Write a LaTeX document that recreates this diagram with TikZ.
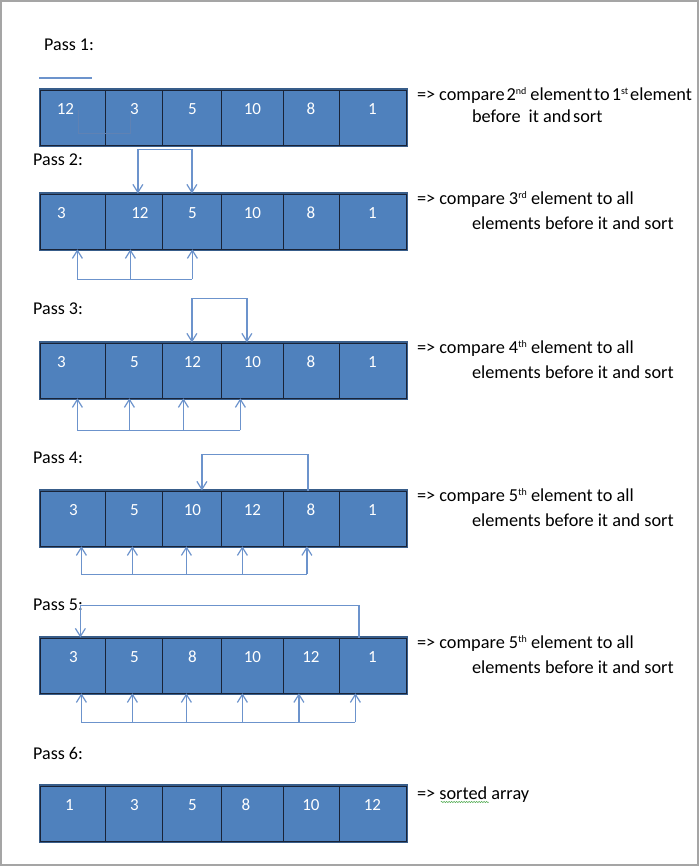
\documentclass[tikz,border=0pt]{standalone}
\usepackage{fontspec}
\setmainfont{Carlito}
\usetikzlibrary{positioning,matrix,arrows.meta,decorations.pathmorphing}

\definecolor{boxblue}{RGB}{79,129,189}
\definecolor{boxedge}{RGB}{56,93,138}
\definecolor{divider}{RGB}{25,35,55}
\definecolor{connblue}{RGB}{108,147,204}
\definecolor{ghostline}{RGB}{95,130,180}
\definecolor{framegray}{RGB}{165,165,165}
\definecolor{spellgreen}{RGB}{80,170,80}

\newcommand\ordsup[1]{\raisebox{6pt}{\fontsize{10}{10}\selectfont#1}}

\begin{document}
\begin{tikzpicture}[x=1pt, y=-1pt,
        >={Straight Barb[length=8pt,width=10pt]},
        arr/.style={matrix of nodes, ampersand replacement=\&,
          column sep=-0.8pt, draw=boxedge, line width=3pt, inner sep=0pt,
          anchor=north west,
          nodes={draw=divider, line width=0.8pt, fill=boxblue, minimum height=55pt,
            text=white, font=\fontsize{17}{20}\selectfont,
            text height=9pt, text depth=15pt, inner sep=0pt},
          column 1/.style={nodes={minimum width=65pt}},
          column 2/.style={nodes={minimum width=57pt}},
          column 3/.style={nodes={minimum width=59pt}},
          column 4/.style={nodes={minimum width=61pt}},
          column 5/.style={nodes={minimum width=56pt}},
          column 6/.style={nodes={minimum width=67pt}}},
        nudge/.style={execute at begin node={\hspace*{#1}}},
        pass/.style={anchor=base west, inner sep=0pt, font=\fontsize{18}{20}\selectfont},
        desc/.style={anchor=north west, inner sep=0pt, align=left,
          font=\fontsize{18.3}{25}\selectfont},
        conn/.style={draw=connblue, line width=1.2pt},
        ghost/.style={draw=ghostline, line width=0.5pt},
        spell/.style={draw=spellgreen, line width=0.5pt, decorate,
          decoration={snake, amplitude=0.7pt, segment length=2.5pt}}
        ]
        \useasboundingbox (0,0) rectangle (700,867);
        \fill[white] (0,0) rectangle (700,867);
        \draw[framegray, line width=1.5pt] (1,1) rectangle (698,865);

        % pass 1
        \node[pass] (p1) at (44,51) {Pass 1:};
        \matrix[arr] (r1) at (39,88) {
          |[nudge=-16pt]| 12 \& 3 \& 5 \& 10 \& 8 \& 1 \\
        };
        \draw[conn] ([yshift=10pt]r1.north west) -- ++(53,0);
        \draw[ghost] ([xshift=5pt,yshift=7pt]r1-1-1.center)
          |- ([xshift=-4pt,yshift=-16pt]r1-1-2.center) -- ++(0,-21);
        \node[desc] (d1) at ([xshift=9pt,yshift=4pt]r1.north east)
          {\rule{0pt}{16pt}{\spaceskip=2pt\relax =>\hspace{4pt}compare 2\ordsup{nd}\hspace{4pt}element to 1\ordsup{st} element}\\[-3pt]
           \hspace*{55pt}before\hspace{8pt}it and\hspace{2pt}sort};

        % pass 2
        \node[pass] (p2) at (33,165) {Pass 2:};
        \matrix[arr] (r2) at (39,192) {
          |[nudge=-24pt]| 3 \& |[nudge=11pt]| 12 \& 5 \& 10 \& 8 \& 1 \\
        };
        \draw[conn,<->] ([xshift=3.5pt]r2-1-2.north) -- ++(0,-44) -| ([xshift=-0.5pt]r2-1-3.north);
        \foreach \i/\d in {1/4,2/-4,3/0}
          \draw[conn,->] ([xshift=\d pt,yshift=-30pt]r2-1-\i.south) -- ([xshift=\d pt]r2-1-\i.south);
        \draw[conn] ([xshift=4pt,yshift=-30pt]r2-1-1.south) -- ([yshift=-30pt]r2-1-3.south);
        \node[desc] (d2) at ([xshift=9pt,yshift=4pt]r2.north east)
          {\rule{0pt}{16pt}=> compare 3\ordsup{rd} element to all\\
           \hspace*{55pt}elements before it and sort};

        % pass 3
        \node[pass] (p3) at (33,314) {Pass 3:};
        \matrix[arr] (r3) at (39,341) {
          |[nudge=-24pt]| 3 \& 5 \& 12 \& 10 \& 8 \& 1 \\
        };
        \draw[conn,<->] ([xshift=-0.5pt]r3-1-3.north) -- ++(0,-44) -| ([xshift=-5.5pt]r3-1-4.north);
        \foreach \i/\d in {1/4,2/-5,3/-9,4/-12}
          \draw[conn,->] ([xshift=\d pt,yshift=-32pt]r3-1-\i.south) -- ([xshift=\d pt]r3-1-\i.south);
        \draw[conn] ([xshift=4pt,yshift=-32pt]r3-1-1.south) -- ([xshift=-12pt,yshift=-32pt]r3-1-4.south);
        \node[desc] (d3) at ([xshift=9pt,yshift=4pt]r3.north east)
          {\rule{0pt}{16pt}=> compare 4\ordsup{th} element to all\\
           \hspace*{55pt}elements before it and sort};

        % pass 4
        \node[pass] (p4) at (33,463) {Pass 4:};
        \matrix[arr] (r4) at (39,489) {
          3 \& 5 \& 10 \& 12 \& 8 \& 1 \\
        };
        \draw[conn,<-] ([xshift=9.5pt]r4-1-3.north) -- ++(0,-36) -| ([xshift=-3pt]r4-1-5.north);
        \foreach \i/\d in {1/8,2/-2,3/-6,4/-10,5/-4}
          \draw[conn,->] ([xshift=\d pt,yshift=-28pt]r4-1-\i.south) -- ([xshift=\d pt]r4-1-\i.south);
        \draw[conn] ([xshift=8pt,yshift=-28pt]r4-1-1.south) -- ([xshift=-4pt,yshift=-28pt]r4-1-5.south);
        \node[desc] (d4) at ([xshift=9pt,yshift=4pt]r4.north east)
          {\rule{0pt}{16pt}=> compare 5\ordsup{th} element to all\\
           \hspace*{55pt}elements before it and sort};

        % pass 5
        \node[pass] (p5) at (33,610) {Pass 5:};
        \matrix[arr] (r5) at (39,636) {
          3 \& 5 \& 8 \& 10 \& 12 \& 1 \\
        };
        \draw[conn,<-] ([xshift=7pt]r5-1-1.north) -- ++(0,-32) -| ([xshift=-13.5pt]r5-1-6.north);
        \foreach \i/\d in {1/8,2/-2,3/-6,4/-10,5/-12,6/-17}
          \draw[conn,->] ([xshift=\d pt,yshift=-29pt]r5-1-\i.south) -- ([xshift=\d pt]r5-1-\i.south);
        \draw[conn] ([xshift=8pt,yshift=-29pt]r5-1-1.south) -- ([xshift=-17pt,yshift=-29pt]r5-1-6.south);
        \node[desc] (d5) at ([xshift=9pt,yshift=4pt]r5.north east)
          {\rule{0pt}{16pt}=> compare 5\ordsup{th} element to all\\
           \hspace*{55pt}elements before it and sort};

        % pass 6
        \node[pass] (p6) at (33,759) {Pass 6:};
        \matrix[arr] (r6) at (39,784) {
          |[nudge=-8pt]| 1 \& 3 \& 5 \& |[nudge=-13pt]| 8 \& 10 \& 12 \\
        };
        \node[anchor=base west, inner sep=0pt, font=\fontsize{18.3}{25}\selectfont] (d6)
          at ([xshift=9pt,yshift=-15pt]r6.north east) {=> sorted array};
        \draw[spell] ([xshift=24pt,yshift=-3pt]d6.base west) -- ++(48,0);
      \end{tikzpicture}
\end{document}
